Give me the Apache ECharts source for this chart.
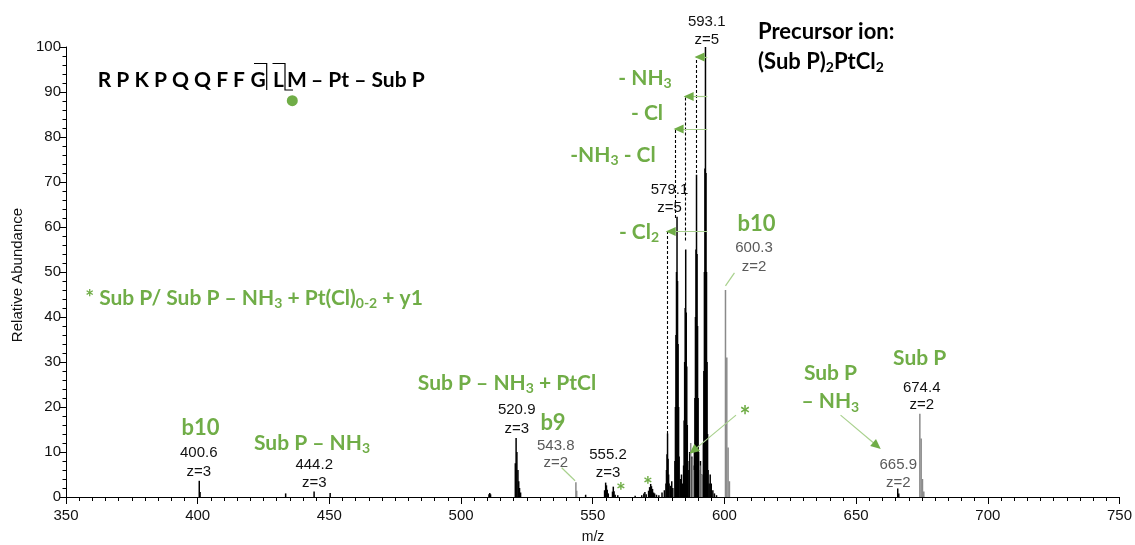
<!DOCTYPE html>
<html>
<head>
<meta charset="utf-8">
<script src="https://cdn.jsdelivr.net/npm/echarts@6/dist/echarts.min.js"></script>
<style>html,body{margin:0;padding:0;background:#fff}#c{width:1135px;height:545px}</style>
</head>
<body>
<div id="c"></div>
<script>
// ---------------- data ----------------
const xTickValues = [350, 400, 450, 500, 550, 600, 650, 700, 750];
const yTickValues = [0, 10, 20, 30, 40, 50, 60, 70, 80, 90, 100];

const blackMz = [
  400.6, 400.9, 433.4, 444.2, 450.3,
  510.6, 510.9, 511.2,
  520.6, 520.9, 521.2, 521.6, 521.9, 522.2, 522.6,
  547.3,
  554.5, 554.9, 555.2, 555.5, 555.9,
  557.5, 557.8, 558.1, 558.5, 559.5, 566.1,
  568.6, 569.4, 569.8, 570.3, 571.2, 571.6, 572.0, 572.3, 572.7, 573.1, 573.5, 574.2, 575.1,
  576.3, 577.2, 577.8, 578.0, 578.2, 578.4, 578.6, 578.8, 579.0, 579.5, 580.0, 580.4,
  581.2, 581.4, 581.6, 581.8, 582.0, 582.2, 582.4, 582.6, 582.8,
  583.3, 583.7, 584.0,
  584.5, 584.7, 584.9, 585.1, 585.3, 585.5, 585.7, 585.9, 586.1,
  586.5, 586.8, 587.6, 588.0,
  588.6, 588.8, 589.0, 589.2, 589.4, 589.6, 589.8, 590.0, 590.2,
  590.5, 590.9, 591.4,
  592.0, 592.2, 592.4, 592.6, 592.8, 593.0, 593.2, 593.4, 593.6, 593.8,
  594.2, 594.6, 595.0, 595.6, 596.2, 597.0,
  665.8, 666.2
];
const blackIntensity = [
  3.6, 1.1, 0.8, 1.2, 0.9,
  0.6, 0.9, 0.6,
  7.5, 13.1, 10.0, 6.0, 3.5, 2.0, 1.0,
  0.5,
  1.5, 3.2, 2.6, 1.6, 0.8,
  1.2, 2.3, 1.3, 0.5, 0.4, 0.3,
  0.4, 0.8, 1.1, 0.6, 1.4, 2.2, 2.9, 2.4, 1.8, 1.0, 0.8, 0.5, 0.4,
  1.0, 1.5, 3.0, 6.0, 9.5, 14.1, 8.5, 5.0, 3.0, 2.5, 3.5, 2.0,
  8, 20, 36, 50, 62.3, 48, 34, 20, 9,
  4, 5, 3,
  7, 17, 30, 42, 55, 41, 29, 16, 8,
  6, 10, 9, 7,
  10, 22, 40, 55, 71.6, 54, 38, 22, 10,
  6, 8, 5,
  12, 28, 50, 73, 100, 72, 50, 30, 14, 6,
  3, 5, 3, 1.5, 0.8, 0.4,
  1.9, 0.8
];
const grayMz = [543.6, 543.9, 587.2, 587.9, 588.2, 590.7, 591.3, 600.4, 600.9, 601.4, 601.9, 674.2, 674.7, 675.2, 675.7];
const grayIntensity = [3.3, 1.4, 12, 8.5, 6, 7, 5, 46, 31, 11, 3.5, 18.5, 13, 4, 1.2];

// peak labels
const peakLabels  = ['593.1', '579.1', '600.3', '520.9', '543.8', '555.2', '400.6', '444.2', '674.4', '665.9'];
const peakCharges = ['z=5',   'z=5',   'z=2',   'z=3',   'z=2',   'z=3',   'z=3',   'z=3',   'z=2',   'z=2'];
const peakLabelGray = [false, false, true, false, true, false, false, false, false, true];

// neutral-loss dashed markers (m/z, from intensity, to intensity)
const lossDashMz   = [589.25, 585.1, 581.3, 578.3];
const lossDashFrom = [72, 57, 62, 14];
const lossDashTo   = [97.8, 89.0, 81.8, 59.0];
const precursorLineMz = 593.5;

// leader/arrow lines: [mz1, int1, mz2, int2]
const arrowLines = [
  [604.4, 18.2, 588.2, 10.3],
  [644.1, 18.2, 657.9, 11.4]
];
const leaderLines = [
  [538.2, 6.5, 543.3, 3.6],
  [603.8, 49.8, 600.4, 46.9]
];

// ---------------- layout ----------------
const GREEN = '#70AD47';
const LIGHTGREEN = '#a9d18e';
const labelPos = [
  [706.7, 21.7, 40], [669.5, 190, 208], [754, 248, 267], [516.7, 410, 429], [555.8, 446, 463],
  [608, 455, 473.3], [198.8, 452.7, 471.7], [314.2, 465, 483.3], [921.7, 387.7, 405], [898.3, 465, 483.3]
];

const chart = echarts.init(document.getElementById('c'));

const graphics = [];
peakLabels.forEach((t, i) => {
  const p = labelPos[i];
  const col = peakLabelGray[i] ? '#5a5a5a' : '#111';
  graphics.push({type: 'text', x: p[0], y: p[1], silent: true,
    style: {text: t, textAlign: 'center', textVerticalAlign: 'middle', font: '15px "Liberation Sans"', fill: col}});
  graphics.push({type: 'text', x: p[0], y: p[2], silent: true,
    style: {text: peakCharges[i], textAlign: 'center', textVerticalAlign: 'middle', font: '15px "Liberation Sans"', fill: col}});
});

function green(text, x, y, size) {
  size = size || 21;
  graphics.push({type: 'text', x: x, y: y, silent: true, style: {
    text: text, textAlign: 'center', textVerticalAlign: 'middle',
    rich: {
      m: {fontSize: size, fontFamily: 'Lato', fontWeight: 'bold', fill: GREEN, lineHeight: size + 4},
      s: {fontSize: Math.round(size * 0.65), fontFamily: 'Lato', fontWeight: 'bold', fill: GREEN,
          lineHeight: Math.round(size * 0.65), verticalAlign: 'bottom'}
    }
  }});
}
green('{m|- NH}{s|3}', 645, 78);
green('{m|- Cl}', 647, 113);
green('{m|-NH}{s|3}{m| - Cl}', 613, 155);
green('{m|- Cl}{s|2}', 639, 232);
green('{m|b10}', 756.5, 224, 22);
green('{m|Sub P – NH}{s|3}{m| + PtCl}', 507, 383);
green('{m|b9}', 553, 423, 22);
green('{m|b10}', 200.5, 428.3, 22);
green('{m|Sub P – NH}{s|3}', 312, 443.3);
green('{m|Sub P}', 919.7, 358.3);
green('{m|Sub P}', 830.5, 373.3);
green('{m|– NH}{s|3}', 830.3, 401.7);
green('{m|* Sub P/ Sub P – NH}{s|3}{m| + Pt(Cl)}{s|0-2}{m| + y1}', 254, 298);
green('{m|*}', 745, 417, 26);
green('{m|*}', 621, 492, 23);
green('{m|*}', 648, 486, 23);

// precursor text
graphics.push({type: 'text', x: 758, y: 31.7, silent: true, style: {text: 'Precursor ion:', textAlign: 'left', textVerticalAlign: 'middle', font: 'bold 22px Lato', fill: '#000'}});
graphics.push({type: 'text', x: 758, y: 61.7, silent: true, style: {
  text: '{m|(Sub P)}{s|2}{m|PtCl}{s|2}', textAlign: 'left', textVerticalAlign: 'middle',
  rich: {m: {fontSize: 22, fontFamily: 'Lato', fontWeight: 'bold', fill: '#000', lineHeight: 26},
         s: {fontSize: 14, fontFamily: 'Lato', fontWeight: 'bold', fill: '#000', lineHeight: 14, verticalAlign: 'bottom'}}
}});

// sequence
const seqFont = 'bold 21px Lato';
graphics.push({type: 'text', x: 245, y: 80, silent: true, style: {text: 'R P K P Q Q F F', textAlign: 'right', textVerticalAlign: 'middle', font: seqFont, fill: '#000'}});
graphics.push({type: 'text', x: 258, y: 80, silent: true, style: {text: 'G', textAlign: 'center', textVerticalAlign: 'middle', font: seqFont, fill: '#000'}});
graphics.push({type: 'text', x: 278.5, y: 80, silent: true, style: {text: 'L', textAlign: 'center', textVerticalAlign: 'middle', font: seqFont, fill: '#000'}});
graphics.push({type: 'text', x: 297, y: 80, silent: true, style: {text: 'M', textAlign: 'center', textVerticalAlign: 'middle', font: seqFont, fill: '#000'}});
graphics.push({type: 'text', x: 311, y: 80, silent: true, style: {text: '– Pt – Sub P', textAlign: 'left', textVerticalAlign: 'middle', font: seqFont, fill: '#000'}});
graphics.push({type: 'polyline', silent: true, shape: {points: [[254, 63.5], [266.7, 63.5], [266.7, 90]]}, style: {stroke: '#000', lineWidth: 1.2, fill: null}});
graphics.push({type: 'polyline', silent: true, shape: {points: [[272.5, 63.5], [285, 63.5], [285, 90], [293, 90]]}, style: {stroke: '#000', lineWidth: 1.2, fill: null}});
graphics.push({type: 'circle', silent: true, shape: {cx: 292.3, cy: 100.7, r: 5.5}, style: {fill: GREEN}});

// axis titles
graphics.push({type: 'text', x: 593, y: 537, silent: true, style: {text: 'm/z', textAlign: 'center', textVerticalAlign: 'middle', font: '14px "Liberation Sans"', fill: '#111'}});
graphics.push({type: 'text', x: 17.5, y: 275, rotation: Math.PI / 2, silent: true, style: {text: 'Relative Abundance', textAlign: 'center', textVerticalAlign: 'middle', font: '15px "Liberation Sans"', fill: '#111'}});

// mark lines built from data
const dashData = lossDashMz.map((m, i) => [{coord: [m, lossDashFrom[i]]}, {coord: [m, lossDashTo[i]]}]);
const greenLineData = lossDashMz.map((m, i) => [{coord: [precursorLineMz, lossDashTo[i]]}, {coord: [m, lossDashTo[i]]}])
  .concat(arrowLines.map(a => [{coord: [a[0], a[1]]}, {coord: [a[2], a[3]]}]))
  .concat(leaderLines.map(a => [{coord: [a[0], a[1]]}, {coord: [a[2], a[3]]}]));
const headData = lossDashMz.map((m, i) => [{coord: [m + 3, lossDashTo[i]]}, {coord: [m + 1.3, lossDashTo[i]]}])
  .concat(arrowLines.map(a => [{coord: [a[0], a[1]]}, {coord: [a[2], a[3]]}]));

const axisFont = {fontSize: 15, fontFamily: 'Liberation Sans', color: '#111'};

chart.setOption({
  animation: false,
  grid: {left: 66, right: 12, top: 47, bottom: 48, containLabel: false},
  xAxis: {
    type: 'value', min: xTickValues[0], max: xTickValues[xTickValues.length - 1], interval: 50,
    axisLine: {onZero: false, lineStyle: {color: '#000', width: 1}},
    axisTick: {length: 7, lineStyle: {color: '#000'}},
    minorTick: {show: true, splitNumber: 10, length: 4, lineStyle: {color: '#000'}},
    axisLabel: Object.assign({margin: 11}, axisFont),
    splitLine: {show: false}
  },
  yAxis: {
    type: 'value', min: yTickValues[0], max: yTickValues[yTickValues.length - 1], interval: 10,
    axisLine: {show: true, lineStyle: {color: '#000', width: 1}},
    axisTick: {show: true, length: 6, lineStyle: {color: '#000'}},
    minorTick: {show: true, splitNumber: 5, length: 3.5, lineStyle: {color: '#000'}},
    axisLabel: Object.assign({margin: 5}, axisFont),
    splitLine: {show: false}
  },
  graphic: graphics,
  series: [
    {type: 'bar', name: 'black', data: blackMz.map((m, i) => [m, blackIntensity[i]]), barWidth: 1.5, barGap: '-100%',
     itemStyle: {color: '#000'}, silent: true},
    {type: 'bar', name: 'gray', data: grayMz.map((m, i) => [m, grayIntensity[i]]), barWidth: 1.5, barGap: '-100%',
     itemStyle: {color: '#8a8a8a'}, silent: true},
    {type: 'line', name: 'dash', data: [], silent: true,
     markLine: {silent: true, symbol: ['none', 'none'], label: {show: false}, animation: false,
       lineStyle: {color: '#000', width: 1.1, type: [3, 2]}, data: dashData}},
    {type: 'line', name: 'greenLines', data: [], silent: true,
     markLine: {silent: true, symbol: ['none', 'none'], label: {show: false}, animation: false,
       lineStyle: {color: LIGHTGREEN, width: 1.2, type: 'solid'}, data: greenLineData}},
    {type: 'line', name: 'heads', data: [], silent: true,
     markLine: {silent: true, symbol: ['none', 'triangle'], symbolSize: [9, 10], label: {show: false}, animation: false,
       lineStyle: {color: GREEN, width: 0, type: 'solid'}, data: headData}}
  ]
});
</script>
</body>
</html>
